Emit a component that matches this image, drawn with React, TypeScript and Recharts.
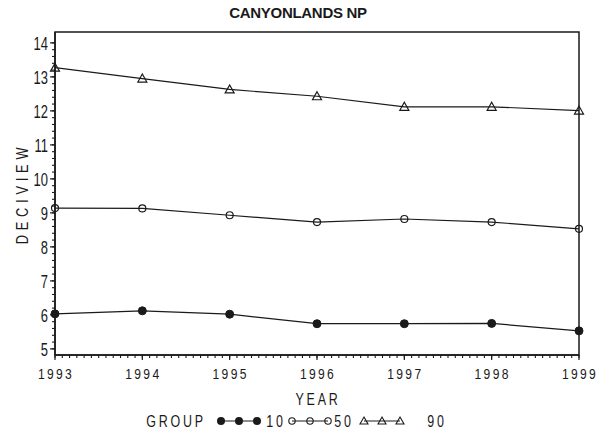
import { LineChart, Line, XAxis, YAxis, ReferenceArea, Legend } from "recharts";

const years = [1993, 1994, 1995, 1996, 1997, 1998, 1999];
const group10 = [6.03, 6.12, 6.02, 5.74, 5.74, 5.75, 5.53];
const group50 = [9.14, 9.13, 8.93, 8.73, 8.82, 8.73, 8.53];
const group90 = [13.27, 12.95, 12.63, 12.43, 12.12, 12.12, 12.01];
const yLabels = [5, 6, 7, 8, 9, 10, 11, 12, 13, 14];
const groupNames = ["10", "50", "90"];

const Y_MIN = 4.82;
const Y_MAX = 14.32;
const FONT = "'Liberation Sans', Arial, sans-serif";
const INK = "#1a1a1a";

const data = years.map((year, i) => ({
  year,
  g10: group10[i],
  g50: group50[i],
  g90: group90[i],
}));

// monthly minor ticks on x, 0.2 steps on y
const xTicks: number[] = [];
years.forEach((y, i) => {
  xTicks.push(y);
  if (i < years.length - 1) for (let m = 1; m < 12; m++) xTicks.push(y + m / 12);
});
const yTicks: number[] = [];
yLabels.forEach((v, i) => {
  yTicks.push(v);
  if (i < yLabels.length - 1) for (let k = 1; k < 5; k++) yTicks.push(v + k / 5);
});

const isMajor = (v: number) => Math.abs(v - Math.round(v)) < 1e-6;

// narrow, tall lettering like the SAS simplex font
const NarrowText = (props: any) => {
  const { x, y, sx = 0.78, rotate = 0, size = 16, spacing = 0, anchor = "middle", children } = props;
  return (
    <text
      transform={`translate(${x} ${y}) rotate(${rotate}) scale(${sx} 1)`}
      textAnchor={anchor}
      dominantBaseline="central"
      fontFamily={FONT}
      fontSize={size}
      fill={INK}
      style={{ letterSpacing: spacing }}
    >
      {children}
    </text>
  );
};

const XTick = (props: any) => {
  const { x, y, payload } = props;
  if (!isMajor(payload.value)) return <g />;
  return (
    <g>
      <line x1={x} x2={x} y1={y - 3} y2={y + 2} stroke={INK} strokeWidth={1.2} />
      <NarrowText x={x + 1} y={y + 15} size={15.5} spacing={3}>
        {Math.round(payload.value)}
      </NarrowText>
    </g>
  );
};

const YTick = (props: any) => {
  const { x, y, payload } = props;
  if (!isMajor(payload.value)) return <g />;
  return (
    <g>
      <line x1={x - 2} x2={x + 3} y1={y} y2={y} stroke={INK} strokeWidth={1.2} />
      <NarrowText x={x - 4} y={y + 1} size={18} sx={0.72} anchor="end">
        {Math.round(payload.value)}
      </NarrowText>
    </g>
  );
};

const FilledDot = (props: any) => {
  const { cx, cy } = props;
  return <circle cx={cx} cy={cy} r={4} fill={INK} stroke={INK} />;
};

const OpenDot = (props: any) => {
  const { cx, cy } = props;
  return <circle cx={cx} cy={cy} r={3.5} fill="none" stroke={INK} strokeWidth={1.2} />;
};

const Triangle = (props: any) => {
  const { cx, cy } = props;
  return (
    <path
      d={`M${cx},${cy - 4.5} L${cx + 4.5},${cy + 3.5} L${cx - 4.5},${cy + 3.5} Z`}
      fill="none"
      stroke={INK}
      strokeWidth={1.2}
    />
  );
};

const legendMarker = (name: string, cx: number, cy: number) => {
  if (name === "10") return <circle key={cx} cx={cx} cy={cy} r={4} fill={INK} />;
  if (name === "50")
    return <circle key={cx} cx={cx} cy={cy} r={3.2} fill="none" stroke={INK} strokeWidth={1.1} />;
  return (
    <path
      key={cx}
      d={`M${cx},${cy - 4} L${cx + 4},${cy + 3} L${cx - 4},${cy + 3} Z`}
      fill="none"
      stroke={INK}
      strokeWidth={1.1}
    />
  );
};

// legend layout: [symbol start, text centre] per group
const legendSlots = [
  [221, 276],
  [292, 344],
  [364, 437],
];

const LegendContent = () => {
  const cy = 15;
  return (
    <svg width={600} height={24} style={{ display: "block" }}>
      <NarrowText x={176} y={cy} size={16} spacing={3.5}>
        GROUP
      </NarrowText>
      {groupNames.map((name, i) => {
        const [sx, tx] = legendSlots[i];
        return (
          <g key={name}>
            <line x1={sx} x2={sx + 36} y1={cy} y2={cy} stroke={INK} strokeWidth={1.1} />
            {[0, 18, 36].map((d) => legendMarker(name, sx + d, cy))}
            <NarrowText x={tx} y={cy} size={16} spacing={3.5}>
              {name}
            </NarrowText>
          </g>
        );
      })}
    </svg>
  );
};

export default function App() {
  return (
    <div style={{ position: "absolute", left: 0, top: 0, width: 600, height: 430, background: "#fff" }}>
      <div
        style={{
          position: "absolute",
          top: 4,
          left: 0,
          width: 596,
          textAlign: "center",
          fontFamily: "'Liberation Sans', Arial, sans-serif",
          fontWeight: "bold",
          fontSize: 15,
          letterSpacing: -0.3,
          color: INK,
        }}
      >
        CANYONLANDS NP
      </div>
      <LineChart width={600} height={430} data={data} margin={{ top: 32, right: 21, bottom: 0, left: 0 }}>
        <XAxis
          dataKey="year"
          type="number"
          domain={[1993, 1999]}
          ticks={xTicks}
          interval={0}
          tick={(p: any) => <XTick {...p} />}
          tickLine={{ stroke: INK, strokeWidth: 1.1 }}
          tickSize={3}
          tickMargin={0}
          height={51}
          axisLine={{ stroke: INK, strokeWidth: 1.5 }}
          label={{
            content: (p: any) => {
              const vb = p.viewBox;
              return (
                <NarrowText x={vb.x + vb.width / 2 + 1} y={vb.y + 44} size={16} spacing={3.5}>
                  YEAR
                </NarrowText>
              );
            },
          }}
        />
        <YAxis
          type="number"
          domain={[Y_MIN, Y_MAX]}
          allowDataOverflow
          ticks={yTicks}
          interval={0}
          tick={(p: any) => <YTick {...p} />}
          tickLine={{ stroke: INK, strokeWidth: 1.1 }}
          tickSize={3}
          tickMargin={0}
          width={55}
          axisLine={{ stroke: INK, strokeWidth: 1.5 }}
          label={{
            content: (p: any) => {
              const vb = p.viewBox;
              return (
                <NarrowText x={22} y={vb.y + vb.height / 2} rotate={-90} size={16} sx={0.8} spacing={6}>
                  DECIVIEW
                </NarrowText>
              );
            },
          }}
        />
        <ReferenceArea
          x1={1993}
          x2={1999}
          y1={Y_MIN}
          y2={Y_MAX}
          fill="none"
          fillOpacity={0}
          stroke={INK}
          strokeWidth={1.5}
          ifOverflow="visible"
        />
        <Legend verticalAlign="bottom" content={() => <LegendContent />} wrapperStyle={{ left: 0, width: 600 }} />
        <Line dataKey="g10" type="linear" stroke={INK} strokeWidth={1.2} dot={<FilledDot />} activeDot={false} isAnimationActive={false} legendType="none" />
        <Line dataKey="g50" type="linear" stroke={INK} strokeWidth={1.2} dot={<OpenDot />} activeDot={false} isAnimationActive={false} legendType="none" />
        <Line dataKey="g90" type="linear" stroke={INK} strokeWidth={1.2} dot={<Triangle />} activeDot={false} isAnimationActive={false} legendType="none" />
      </LineChart>
    </div>
  );
}
